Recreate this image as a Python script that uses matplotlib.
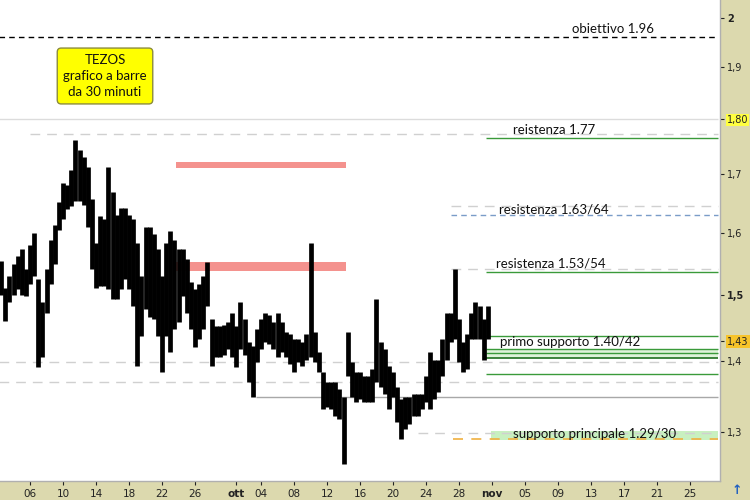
import matplotlib
matplotlib.use("Agg")
import matplotlib.pyplot as plt
import pandas as pd

# ---------------- data (12-hour bars) ----------------
bar_start = "2018-09-02 12:00"
highs = [1.553, 1.511, 1.529, 1.548, 1.561, 1.572, 1.540, 1.580, 1.600, 1.524,
         1.488, 1.540, 1.588, 1.613, 1.651, 1.685, 1.681, 1.708, 1.762, 1.744,
         1.731, 1.713, 1.656, 1.583, 1.627, 1.622, 1.712, 1.668, 1.630, 1.642,
         1.642, 1.630, 1.622, 1.583, 1.529, 1.610, 1.610, 1.597, 1.572, 1.529,
         1.583, 1.602, 1.588, 1.572, 1.572, 1.556, 1.519, 1.508, 1.516, 1.529,
         1.551, 1.462, 1.451, 1.451, 1.454, 1.458, 1.472, 1.451, 1.488, 1.462,
         1.428, 1.422, 1.447, 1.462, 1.472, 1.469, 1.458, 1.472, 1.458, 1.443,
         1.440, 1.432, 1.432, 1.428, 1.440, 1.583, 1.443, 1.413, 1.384, 1.370,
         1.370, 1.370, 1.359, 1.349, 1.443, 1.398, 1.384, 1.384, 1.378, 1.378,
         1.388, 1.493, 1.428, 1.417, 1.392, 1.384, 1.363, 1.345, 1.349, 1.349,
         1.352, 1.352, 1.352, 1.378, 1.413, 1.402, 1.402, 1.432, 1.472, 1.472,
         1.540, 1.462, 1.428, 1.440, 1.472, 1.488, 1.482, 1.462, 1.482]
lows = [1.500, 1.459, 1.488, 1.500, 1.508, 1.500, 1.497, 1.516, 1.529, 1.391,
        1.406, 1.472, 1.516, 1.548, 1.605, 1.622, 1.639, 1.644, 1.653, 1.653,
        1.647, 1.610, 1.540, 1.511, 1.513, 1.513, 1.508, 1.493, 1.493, 1.508,
        1.524, 1.508, 1.482, 1.392, 1.436, 1.477, 1.466, 1.462, 1.436, 1.384,
        1.436, 1.413, 1.447, 1.458, 1.497, 1.472, 1.447, 1.421, 1.432, 1.447,
        1.482, 1.392, 1.406, 1.406, 1.409, 1.417, 1.406, 1.391, 1.417, 1.409,
        1.370, 1.349, 1.398, 1.417, 1.428, 1.425, 1.417, 1.406, 1.413, 1.406,
        1.395, 1.384, 1.398, 1.392, 1.402, 1.406, 1.398, 1.384, 1.331, 1.335,
        1.331, 1.322, 1.318, 1.258, 1.378, 1.349, 1.341, 1.345, 1.341, 1.341,
        1.341, 1.370, 1.363, 1.352, 1.331, 1.349, 1.314, 1.291, 1.304, 1.311,
        1.322, 1.322, 1.331, 1.341, 1.331, 1.345, 1.355, 1.378, 1.402, 1.428,
        1.432, 1.398, 1.384, 1.388, 1.432, 1.432, 1.432, 1.402, 1.432]

# horizontal levels (price, start date)
target_level = 1.96
grey_solid_levels = [1.80]
grey_dashed_levels = [1.772, 1.644, 1.540, 1.399, 1.370, 1.299]
grey_dashed_starts = ["2018-09-06", "2018-10-27", "2018-10-27", "2018-09-02", "2018-09-02", "2018-10-23"]
green_levels = [1.765, 1.535, 1.436, 1.418, 1.412, 1.381]
dark_green_levels = [1.404]
green_start = "2018-10-31 08:00"
blue_dashed_level = 1.630
blue_start = "2018-10-27"
pivot_level = 1.349
pivot_start = "2018-10-03 08:00"
support_band = (1.290, 1.302)
support_band_start = "2018-10-31 22:00"
orange_level = 1.291
orange_start = "2018-10-27 08:00"
first_support_band = (1.404, 1.418)
red_zones = [(1.711, 1.721), (1.538, 1.552)]
red_zone_span = ("2018-09-23 17:00", "2018-10-14 08:00")
end_date = "2018-11-28 10:00"

ytick_values = [1.3, 1.4, 1.43, 1.5, 1.6, 1.7, 1.8, 1.9, 2.0]
ytick_labels = ["1,3", "1,4", "1,43", "1,5", "1,6", "1,7", "1,80", "1,9", "2"]

xtick_dates = ["2018-09-06", "2018-09-10", "2018-09-14", "2018-09-18", "2018-09-22",
               "2018-09-26", "2018-10-01", "2018-10-04", "2018-10-08", "2018-10-12",
               "2018-10-16", "2018-10-20", "2018-10-24", "2018-10-28", "2018-11-01",
               "2018-11-05", "2018-11-09", "2018-11-13", "2018-11-17", "2018-11-21",
               "2018-11-25"]
xtick_labels = ["06", "10", "14", "18", "22", "26", "ott", "04", "08", "12", "16",
                "20", "24", "28", "nov", "05", "09", "13", "17", "21", "25"]

# ---------------- figure ----------------
TAN = "#dcd9ae"
fig = plt.figure(figsize=(7.5, 5), dpi=100, facecolor=TAN)
ax = fig.add_axes([0, 19 / 500, 720 / 750, 481 / 500])
ax.set_facecolor("white")

times = pd.date_range(bar_start, periods=len(highs), freq="12h")
end = pd.Timestamp(end_date)

def hline(level, start, color, ls="-", lw=1.0, z=2):
    ax.plot([pd.Timestamp(start), end], [level, level], color=color, ls=ls, lw=lw,
            zorder=z, solid_capstyle="butt")

for lo, hi in red_zones:
    ax.fill_between([pd.Timestamp(red_zone_span[0]), pd.Timestamp(red_zone_span[1])],
                    lo, hi, color="#f4928e", lw=0, zorder=1)

ax.fill_between([pd.Timestamp(support_band_start), end], support_band[0], support_band[1],
                color="#c8f0c0", lw=0, zorder=1)
ax.fill_between([pd.Timestamp(green_start), end], first_support_band[0], first_support_band[1],
                color="#dff3da", lw=0, zorder=1)

dash = (0, (7, 5))
hline(target_level, "2018-09-02", "black", ls=(0, (4, 3)), lw=1.0)
for lv in grey_solid_levels:
    hline(lv, "2018-09-02", "#dcdcdc", lw=1.0)
for lv, st in zip(grey_dashed_levels, grey_dashed_starts):
    hline(lv, st, "#d0d0d0", ls=dash, lw=1.0, z=1.5)
for lv in green_levels:
    hline(lv, green_start, "#3a9a3a", lw=1.0)
for lv in dark_green_levels:
    hline(lv, green_start, "#1f6f1f", lw=1.2)
hline(blue_dashed_level, blue_start, "#7a9cc8", ls=(0, (4, 3)), lw=1.0)
hline(pivot_level, pivot_start, "#a8a8a8", lw=1.0)
hline(orange_level, orange_start, "#f0b040", ls=(0, (6, 5)), lw=1.2)

# price bars
ax.vlines(times, lows, highs, color="black", lw=3.4, zorder=3)

# axes setup
ax.set_yscale("log")
ax.set_ylim(1.2356, 2.0377)
ax.set_xlim(pd.Timestamp("2018-09-02 08:40"), pd.Timestamp("2018-11-28 15:20"))
ax.yaxis.tick_right()
ax.yaxis.set_minor_locator(matplotlib.ticker.NullLocator())
ax.set_yticks(ytick_values)
ax.set_yticklabels(ytick_labels)
ax.tick_params(axis="y", which="major", length=3, pad=2, labelsize=7,
               colors="#222222", direction="out")
for lab in ax.get_yticklabels():
    t = lab.get_text()
    if t in ("2", "1,5"):
        lab.set_fontweight("bold")
    if t == "1,80":
        lab.set_bbox(dict(boxstyle="square,pad=0.1", fc="#ffff40", ec="none"))
    if t == "1,43":
        lab.set_bbox(dict(boxstyle="square,pad=0.12", fc="#f7c42a", ec="none"))

ax.set_xticks([pd.Timestamp(d) for d in xtick_dates])
ax.set_xticklabels(xtick_labels)
ax.xaxis.set_minor_locator(matplotlib.ticker.NullLocator())
ax.tick_params(axis="x", length=3, pad=3, labelsize=7.5, colors="#222222", direction="out")
for lab in ax.get_xticklabels():
    if lab.get_text() in ("ott", "nov"):
        lab.set_fontweight("bold")

for s in ("top", "left"):
    ax.spines[s].set_visible(False)
for s in ("right", "bottom"):
    ax.spines[s].set_color("#b0b0b0")
    ax.spines[s].set_linewidth(1.0)

# texts
font = dict(family=["Lato", "DejaVu Sans"], fontsize=9.5, color="#111111")
labels = [
    ("obiettivo 1.96", 572 / 720, 1 - 29 / 481),
    ("reistenza 1.77", 513 / 720, 1 - 130 / 481),
    ("resistenza 1.63/64", 499 / 720, 1 - 209 / 481),
    ("resistenza 1.53/54", 496 / 720, 1 - 263 / 481),
    ("primo supporto 1.40/42", 500 / 720, 1 - 342 / 481),
    ("supporto principale 1.29/30", 513 / 720, 1 - 434 / 481),
]
for txt, xf, yf in labels:
    ax.text(xf, yf, txt, transform=ax.transAxes, ha="left", va="center", zorder=5, **font)

ax.text(105 / 720, 1 - 76 / 481, "TEZOS\ngrafico a barre\nda 30 minuti",
        transform=ax.transAxes, ha="center", va="center", linespacing=1.4,
        family=["Lato", "DejaVu Sans"], fontsize=9.5, color="#111111", zorder=6,
        bbox=dict(boxstyle="round,pad=0.45,rounding_size=0.3", fc="#ffff00", ec="#8c8c3c", lw=1))

fig.text(737 / 750, 1 - 490 / 500, "\u2191", color="#2060c0", fontsize=9, ha="center",
         va="center", fontweight="bold")

fig.savefig("out.png", dpi=100, facecolor=fig.get_facecolor())
